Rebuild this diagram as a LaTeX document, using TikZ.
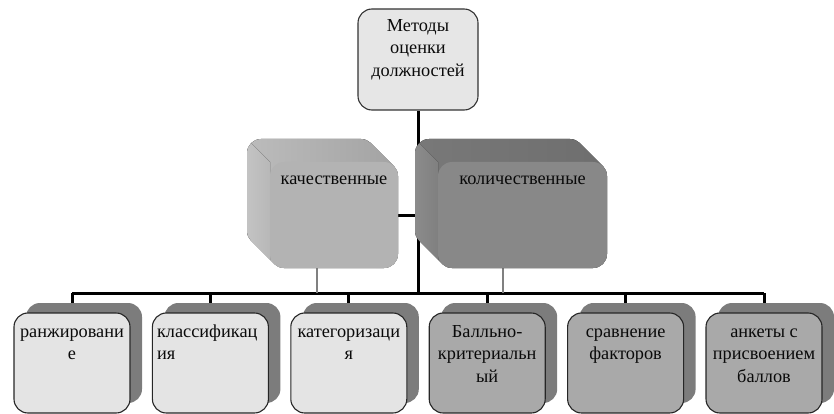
\documentclass[tikz,border=0pt]{standalone}
\usepackage{fontspec}
\setmainfont{Liberation Serif}
\pgfdeclarelayer{wires}
\pgfdeclarelayer{cards}
\pgfsetlayers{wires,cards,main}
\definecolor{rootfill}{HTML}{E6E6E6}
\definecolor{lightfill}{HTML}{E4E4E4}
\definecolor{darkfill}{HTML}{A9A9A9}
\definecolor{cardfill}{HTML}{7C7C7C}
\definecolor{qualfront}{HTML}{B3B3B3}
\definecolor{quantfront}{HTML}{888888}
\definecolor{inkgray}{HTML}{0A0A0A}
% extruded slab behind a front face: x0 y0 x1 y1 depth, top-face shade, side-face shade
\newcommand\slab[9]{%
  \begin{scope}
    \clip[rounded corners=14pt] \foreach \i in {0,...,#5} {(#1-\i,#2-\i) rectangle (#3-\i,#4-\i)};
    \fill[left color=#6, right color=#7] (#1,#2) -- (#1-60,#2-60) -- (#3+60,#2-60) -- (#3+60,#4+60) -- (#1,#4+60) -- cycle;
    \fill[left color=#8, right color=#9] (#1,#2) -- (#1-60,#2-60) -- (#1-60,#4+60) -- (#1,#4+60) -- cycle;
  \end{scope}}
\begin{document}
\begin{tikzpicture}[x=1pt,y=-1pt,
  lbl/.style={font=\fontsize{18.3}{22.5}\selectfont, text=inkgray, align=center, inner sep=0pt},
  rootbox/.style={rounded corners=14pt, draw=black!80, line width=1.1pt, fill=rootfill,
    minimum width=120pt, minimum height=101pt, inner sep=0pt},
  leaf/.style={rounded corners=14pt, draw=black!85, line width=1.1pt,
    minimum width=116pt, minimum height=100pt, inner sep=0pt},
  backcard/.style={rounded corners=14pt, fill=cardfill,
    minimum width=116pt, minimum height=100pt, inner sep=0pt},
  face/.style={rounded corners=14pt, minimum height=106pt, inner sep=0pt},
  trunk/.style={line width=3pt, black},
  drop/.style={line width=2pt, black!50}]
\useasboundingbox (0,0) rectangle (834,414);

% root (labels are anchored at the baseline of their last line)
\node[rootbox] (root) at (418,59.5) {};
\node[lbl, anchor=base] (rootT) at ([yshift=-68pt]root.north) {Методы\\оценки\\должностей};

% two groups, drawn as extruded slabs
\slab{270}{162}{398}{268}{23}{black!24}{black!40}{black!16}{black!28}
\node[face, fill=qualfront, minimum width=128pt] (qual) at (334,215) {};
\node[lbl, anchor=base] (qualT) at ([yshift=-23pt]qual.north) {качественные};

\slab{438}{162}{607}{268}{23}{black!52}{black!58}{black!38}{black!50}
\node[face, fill=quantfront, minimum width=169pt] (quant) at (522.5,215) {};
\node[lbl, anchor=base] (quantT) at ([yshift=-23pt]quant.north) {количественные};

% leaves
\node[leaf, fill=lightfill] (b1) at (72,363) {};
\node[leaf, fill=lightfill] (b2) at (210.4,363) {};
\node[leaf, fill=lightfill] (b3) at (348.8,363) {};
\node[leaf, fill=darkfill] (b4) at (487.2,363) {};
\node[leaf, fill=darkfill] (b5) at (625.6,363) {};
\node[leaf, fill=darkfill] (b6) at (764,363) {};

\begin{pgfonlayer}{cards}
\foreach \k in {1,...,6} {
  \node[backcard] (c\k) at ([shift={(12pt,10pt)}]b\k.center) {};
}
\end{pgfonlayer}

\node[lbl, anchor=base] (t1) at ([yshift=-47.5pt]b1.north) {ранжировани\\е};
\node[lbl, anchor=base west, align=left] (t2) at ([shift={(5pt,-47.5pt)}]b2.north west) {классификац\\ия};
\node[lbl, anchor=base] (t3) at ([yshift=-47.5pt]b3.north) {категоризаци\\я};
\node[lbl, anchor=base] (t4) at ([yshift=-70pt]b4.north) {Балльно-\\критериальн\\ый};
\node[lbl, anchor=base] (t5) at ([yshift=-47.5pt]b5.north) {сравнение\\факторов};
\node[lbl, anchor=base] (t6) at ([yshift=-70pt]b6.north) {анкеты с\\присвоением\\баллов};

% connectors
\coordinate (bar) at (418,293);
\begin{pgfonlayer}{wires}
\draw[trunk] (root.south) -- (root.south |- bar);
\draw[trunk] (qual.east) -- (qual.east -| root.south);
\draw[trunk] (b1.north |- bar) -- (b6.north |- bar);
\foreach \k in {1,...,6} {
  \draw[trunk] (b\k.north |- bar) -- (b\k.north);
}
\draw[drop] ([xshift=-17pt]qual.south) -- ([xshift=-17pt]qual.south |- bar);
\draw[drop] ([xshift=-19.5pt]quant.south) -- ([xshift=-19.5pt]quant.south |- bar);
\end{pgfonlayer}
\end{tikzpicture}
\end{document}
